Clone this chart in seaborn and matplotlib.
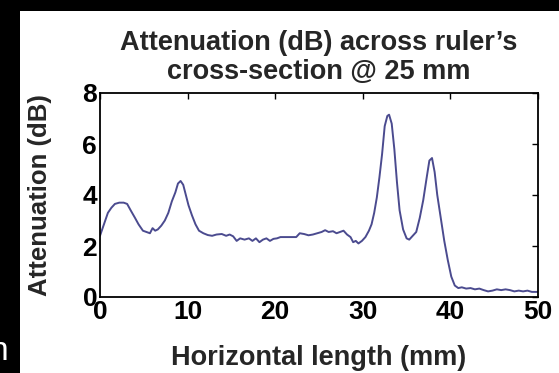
import matplotlib
matplotlib.use("Agg")
import matplotlib.pyplot as plt
from matplotlib.patches import Rectangle
import seaborn as sns
import pandas as pd

x_mm = [0.0, 0.3, 0.6, 0.9, 1.3, 1.7, 2.2, 2.7, 3.1, 3.5, 4.0, 4.4, 4.9, 5.3, 5.7, 6.0, 6.3, 6.6,
        7.0, 7.4, 7.8, 8.2, 8.6, 8.9, 9.2, 9.5, 9.8, 10.1, 10.5, 10.9, 11.3, 11.8, 12.3, 12.8,
        13.3, 13.9, 14.4, 14.8, 15.2, 15.6, 16.0, 16.5, 17.0, 17.4, 17.8, 18.2, 18.6, 19.0,
        19.4, 19.8, 20.2, 20.6, 21.5, 22.4, 22.8, 23.3, 23.8, 24.3, 24.8, 25.3, 25.7, 26.1,
        26.6, 27.0, 27.4, 27.8, 28.2, 28.6, 28.9, 29.2, 29.5, 29.9, 30.3, 30.7, 31.0, 31.3,
        31.6, 31.9, 32.2, 32.5, 32.8, 33.0, 33.3, 33.6, 33.9, 34.2, 34.6, 35.0, 35.3, 35.7,
        36.1, 36.5, 36.9, 37.3, 37.6, 37.9, 38.2, 38.5, 38.9, 39.3, 39.7, 40.1, 40.5, 40.9,
        41.3, 41.8, 42.3, 42.8, 43.3, 43.8, 44.3, 44.8, 45.3, 45.8, 46.3, 46.8, 47.3, 47.8,
        48.3, 48.8, 49.3, 50.0]
atten_db = [2.4, 2.7, 3.0, 3.3, 3.5, 3.65, 3.7, 3.7, 3.65, 3.4, 3.1, 2.85, 2.6, 2.55, 2.5, 2.7,
            2.6, 2.65, 2.8, 3.0, 3.3, 3.75, 4.1, 4.45, 4.55, 4.4, 4.0, 3.6, 3.2, 2.85, 2.6, 2.5,
            2.43, 2.4, 2.45, 2.47, 2.4, 2.45, 2.38, 2.2, 2.3, 2.25, 2.3, 2.2, 2.3, 2.15, 2.25,
            2.3, 2.2, 2.28, 2.3, 2.35, 2.35, 2.35, 2.5, 2.47, 2.42, 2.45, 2.5, 2.55, 2.62, 2.55,
            2.58, 2.5, 2.55, 2.6, 2.45, 2.35, 2.15, 2.2, 2.1, 2.2, 2.35, 2.6, 2.85, 3.3, 3.9,
            4.7, 5.6, 6.7, 7.1, 7.15, 6.8, 5.8, 4.5, 3.4, 2.65, 2.3, 2.25, 2.4, 2.55, 3.1, 3.8,
            4.7, 5.35, 5.45, 4.9, 4.0, 3.1, 2.2, 1.45, 0.8, 0.45, 0.35, 0.38, 0.33, 0.35, 0.3,
            0.33, 0.27, 0.22, 0.25, 0.3, 0.27, 0.3, 0.27, 0.22, 0.25, 0.22, 0.25, 0.2, 0.2]
x_ticks = [0, 10, 20, 30, 40, 50]
y_ticks = [0, 2, 4, 6, 8]
title = "Attenuation (dB) across ruler\u2019s\ncross-section @ 25 mm"
xlabel = "Horizontal length (mm)"
ylabel = "Attenuation (dB)"

sns.set_style("white")
plt.rcParams['font.family'] = ['Liberation Sans', 'DejaVu Sans']

W, H = 559, 373
fig = plt.figure(figsize=(W / 100, H / 100), dpi=100)
ax = fig.add_axes([100 / W, (H - 297) / H, 438 / W, 204 / H])

df = pd.DataFrame({"x": x_mm, "y": atten_db})
sns.lineplot(data=df, x="x", y="y", ax=ax, color="#4b4b8f", linewidth=1.4)

ax.set_xlim(0, 50)
ax.set_ylim(0, 8)
ax.set_xticks(x_ticks)
ax.set_yticks(y_ticks)
ax.tick_params(direction="in", length=4, width=1, top=True, right=True,
               labelsize=19, pad=2, colors="black")
for lab in ax.get_xticklabels() + ax.get_yticklabels():
    lab.set_fontweight("bold")
for sp in ax.spines.values():
    sp.set_visible(True)
    sp.set_color("black")
    sp.set_linewidth(1.3)
ax.set_xlabel(xlabel, fontsize=19.5, fontweight="bold", labelpad=15)
ax.set_ylabel(ylabel, fontsize=18.5, fontweight="bold", labelpad=22)
ax.set_title(title, fontsize=19.5, fontweight="bold", pad=10, linespacing=1.15)

# dark slide border
fig.patches.append(Rectangle((0, 1 - 11 / H), 1, 11 / H, transform=fig.transFigure,
                             facecolor="black", edgecolor="none", zorder=10))
fig.patches.append(Rectangle((0, 0), 20 / W, 1, transform=fig.transFigure,
                             facecolor="black", edgecolor="none", zorder=10))
fig.text(8 / W, (H - 360) / H, "n", color="white", fontsize=24, ha="right", va="baseline",
         zorder=11)

fig.savefig("out.png", dpi=100)
